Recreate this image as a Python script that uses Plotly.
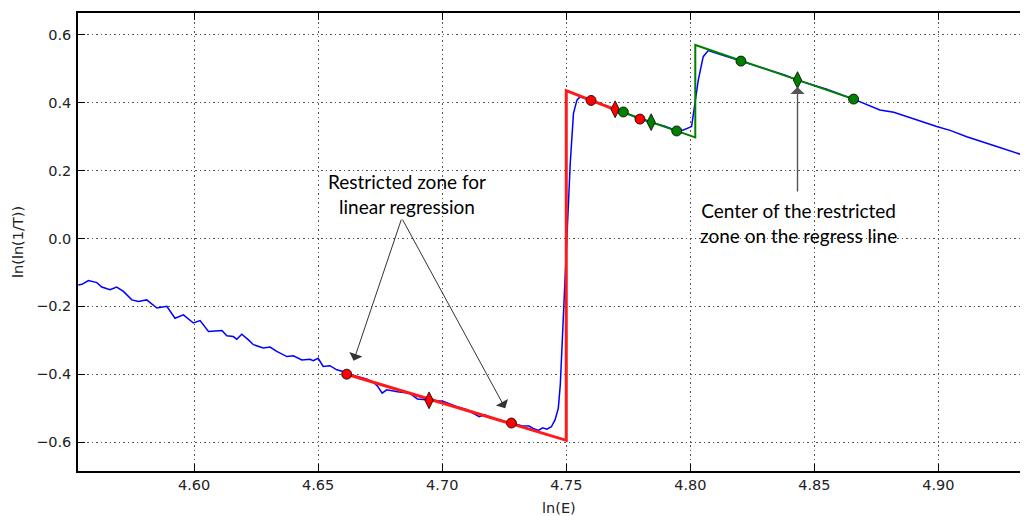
import plotly.graph_objects as go

# ---- data ----
blue_x = [4.5533, 4.5548, 4.5574, 4.5590, 4.5608, 4.5628, 4.5661, 4.5688, 4.5715, 4.5749,
          4.5776, 4.5795, 4.5809, 4.5850, 4.5890, 4.5923, 4.5957, 4.5997, 4.6024, 4.6058,
          4.6112, 4.6132, 4.6158, 4.6172, 4.6192, 4.6219, 4.6239, 4.6279, 4.6306, 4.6333,
          4.6374, 4.6400, 4.6434, 4.6467, 4.6480, 4.6500, 4.6520, 4.6547, 4.6575, 4.6600,
          4.6614, 4.6650, 4.6695, 4.6725, 4.6740, 4.6758, 4.6776, 4.6820, 4.6868, 4.6900,
          4.6947, 4.7003, 4.7057, 4.7100, 4.7149, 4.7170, 4.7203, 4.7240, 4.7279, 4.7320,
          4.7350, 4.7366, 4.7388, 4.7405, 4.7422, 4.7440, 4.7455, 4.7468, 4.7476, 4.7483,
          4.7489, 4.7503, 4.7516, 4.7529, 4.7543, 4.7556, 4.7600, 4.7650, 4.7697, 4.7730,
          4.7797, 4.7842, 4.7900, 4.7945, 4.7972, 4.8005, 4.8018, 4.8032, 4.8052, 4.8072,
          4.8106, 4.8204, 4.8300, 4.8380, 4.8432, 4.8550, 4.8658, 4.8764, 4.8820, 4.8872,
          4.8993, 4.9050, 4.9114, 4.9235, 4.9300, 4.9328, 4.9361]
blue_y = [-0.137, -0.135, -0.124, -0.127, -0.130, -0.143, -0.151, -0.143, -0.156, -0.181,
          -0.186, -0.183, -0.181, -0.205, -0.200, -0.235, -0.225, -0.249, -0.242, -0.274,
          -0.271, -0.287, -0.289, -0.297, -0.282, -0.299, -0.313, -0.323, -0.320, -0.333,
          -0.348, -0.346, -0.358, -0.356, -0.360, -0.353, -0.377, -0.375, -0.387, -0.392,
          -0.397, -0.405, -0.414, -0.425, -0.436, -0.456, -0.446, -0.452, -0.456, -0.473,
          -0.477, -0.480, -0.495, -0.505, -0.525, -0.520, -0.529, -0.538, -0.544, -0.552,
          -0.553, -0.560, -0.566, -0.558, -0.562, -0.555, -0.534, -0.500, -0.430, -0.320,
          -0.220, -0.024, 0.222, 0.369, 0.408, 0.418, 0.407, 0.393, 0.381, 0.373,
          0.352, 0.343, 0.330, 0.317, 0.320, 0.330, 0.399, 0.467, 0.536, 0.554,
          0.546, 0.523, 0.500, 0.482, 0.467, 0.440, 0.411, 0.379, 0.372, 0.359,
          0.330, 0.318, 0.300, 0.271, 0.255, 0.249, 0.241]

red_line_x = [4.6615, 4.7500, 4.7500, 4.7715]
red_line_y = [-0.400, -0.595, 0.436, 0.375]
green_line_x = [4.7725, 4.8020, 4.8020, 4.8658]
green_line_y = [0.373, 0.298, 0.5705, 0.411]

red_dot_x = [4.6615, 4.7279, 4.7600, 4.7797]
red_dot_y = [-0.400, -0.544, 0.407, 0.352]
red_dia_x = [4.6947, 4.7697]
red_dia_y = [-0.477, 0.381]
green_dot_x = [4.7730, 4.7945, 4.8204, 4.8658]
green_dot_y = [0.373, 0.317, 0.523, 0.411]
green_dia_x = [4.7842, 4.8432]
green_dia_y = [0.343, 0.467]

x_ticks = [4.60, 4.65, 4.70, 4.75, 4.80, 4.85, 4.90]
y_ticks = [-0.6, -0.4, -0.2, 0.0, 0.2, 0.4, 0.6]

note1 = "Restricted zone for<br>linear regression"
note2 = "Center of the restricted<br>zone on the regress line"

# ---- figure ----
fig = go.Figure()
fig.add_trace(go.Scatter(x=blue_x, y=blue_y, mode="lines",
                         line=dict(color="#0000ff", width=1.5), showlegend=False))
fig.add_trace(go.Scatter(x=red_line_x, y=red_line_y, mode="lines",
                         line=dict(color="#ff1a1a", width=3), showlegend=False))
fig.add_trace(go.Scatter(x=green_line_x, y=green_line_y, mode="lines",
                         line=dict(color="#008000", width=2), showlegend=False))
fig.add_trace(go.Scatter(x=red_dia_x, y=red_dia_y, mode="markers", showlegend=False,
                         marker=dict(symbol="diamond-tall", size=12, color="#ff0000",
                                     line=dict(color="#000000", width=0.8))))
fig.add_trace(go.Scatter(x=red_dot_x, y=red_dot_y, mode="markers", showlegend=False,
                         marker=dict(symbol="circle", size=10, color="#ff0000",
                                     line=dict(color="#000000", width=0.8))))
fig.add_trace(go.Scatter(x=green_dia_x, y=green_dia_y, mode="markers", showlegend=False,
                         marker=dict(symbol="diamond-tall", size=12, color="#008000",
                                     line=dict(color="#000000", width=0.8))))
fig.add_trace(go.Scatter(x=green_dot_x, y=green_dot_y, mode="markers", showlegend=False,
                         marker=dict(symbol="circle", size=10, color="#008000",
                                     line=dict(color="#000000", width=0.8))))

tick_font = dict(family="DejaVu Sans", size=14.5, color="#222222")
grid = dict(showgrid=True, gridcolor="#555555", gridwidth=1, griddash="1.5px,3px",
            zeroline=False, showline=True, linecolor="#000000", linewidth=1.5,
            ticks="inside", ticklen=7, tickwidth=1, tickcolor="#000000",
            tickfont=tick_font)

fig.update_xaxes(range=[4.5532, 4.9361], tickvals=x_ticks, tickformat=".2f",
                 mirror="ticks", **grid)
fig.update_yaxes(range=[-0.6854, 0.6648], tickvals=y_ticks, tickformat=".1f",
                 mirror=False, ticklabelstandoff=2, **grid)

# page body adds an 8px offset; plot area spans px 78..1028 (x), 13..471 (y)
plot_w = 950
plot_h = 458
ann_font = dict(family="Lato", size=19, color="#000000")
annotations = [
    dict(x=4.6859, y=0.1315, xref="x", yref="y", text=note1, showarrow=False,
         font=ann_font, xanchor="center", yanchor="middle", align="center"),
    dict(x=4.8437, y=0.0452, xref="x", yref="y", text=note2, showarrow=False,
         font=ann_font, xanchor="center", yanchor="middle", align="center"),
    dict(x=4.6643, y=-0.3605, ax=4.6837, ay=0.060, xref="x", yref="y", axref="x", ayref="y",
         text="", showarrow=True, arrowhead=1, arrowsize=2.3, arrowwidth=1, arrowcolor="#333333"),
    dict(x=4.7254, y=-0.5005, ax=4.6837, ay=0.060, xref="x", yref="y", axref="x", ayref="y",
         text="", showarrow=True, arrowhead=1, arrowsize=2.3, arrowwidth=1, arrowcolor="#333333"),
    dict(x=4.8432, y=0.4468, ax=4.8432, ay=0.1345, xref="x", yref="y", axref="x", ayref="y",
         text="", showarrow=True, arrowhead=1, arrowsize=1.7, arrowwidth=1.4, arrowcolor="#555555"),
    dict(x=(559 - 78) / plot_w, y=-(508 - 471) / plot_h, xref="paper", yref="paper", text="ln(E)",
         showarrow=False, font=tick_font, xanchor="center", yanchor="middle"),
    dict(x=(18 - 78) / plot_w, y=0.5, xref="paper", yref="paper", text="ln(ln(1/T))",
         showarrow=False, font=tick_font, xanchor="center", yanchor="middle", textangle=-90),
]

fig.update_layout(width=1020, height=508, margin=dict(l=70, r=0, t=5, b=45, pad=0),
                  paper_bgcolor="#ffffff", plot_bgcolor="#ffffff",
                  annotations=annotations, showlegend=False)

fig.write_html("out.html")
